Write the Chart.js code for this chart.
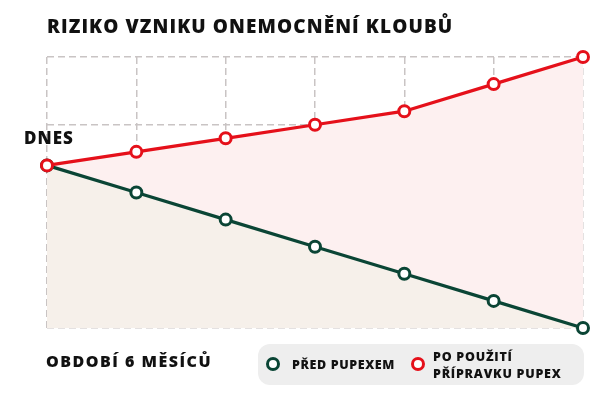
<!DOCTYPE html>
<html><head><meta charset="utf-8">
<script src="https://cdn.jsdelivr.net/npm/chart.js@4/dist/chart.umd.min.js"></script>
<style>
html,body{margin:0;padding:0;background:#fff;}
#wrap{position:relative;width:600px;height:396px;overflow:hidden;font-family:"Open Sans","Noto Sans",sans-serif;font-weight:800;color:#111;}
canvas{position:absolute;left:0;top:0;}
.t{position:absolute;white-space:nowrap;line-height:1;}
#title{left:47px;top:17px;font-size:19px;letter-spacing:1.1px;}
#dnes{left:24px;top:129px;font-size:17px;letter-spacing:1px;}
#period{left:46px;top:353px;font-size:16px;letter-spacing:1.5px;}
#legend{position:absolute;left:258px;top:344px;width:326px;height:41px;background:#eeeeee;border-radius:12px;}
.dot{position:absolute;width:8px;height:8px;border-radius:50%;border:3px solid;background:#fff;}
.lt{position:absolute;font-size:12.5px;letter-spacing:0.6px;line-height:17px;white-space:nowrap;}
</style></head>
<body><div id="wrap">
<canvas id="c" width="600" height="396"></canvas>
<div class="t" id="title">RIZIKO VZNIKU ONEMOCNĚNÍ KLOUBŮ</div>
<div class="t" id="dnes">DNES</div>
<div class="t" id="period">OBDOBÍ 6 MĚSÍCŮ</div>
<div id="legend">
  <div class="dot" style="left:8px;top:13px;border-color:#0a4535"></div>
  <div class="lt" style="left:34px;top:12px">PŘED PUPEXEM</div>
  <div class="dot" style="left:153px;top:13px;border-color:#e5101a"></div>
  <div class="lt" style="left:175px;top:4px;letter-spacing:0.75px">PO POUŽITÍ<br>PŘÍPRAVKU PUPEX</div>
</div>
</div>
<script>
const categories = ["0","1","2","3","4","5","6"];
const seriesBefore = [60, 50, 40, 30, 20, 10, 0];
const seriesAfter = [60, 65, 70, 75, 80, 90, 100];
const seriesNames = ["PO POUŽITÍ PŘÍPRAVKU PUPEX", "PŘED PUPEXEM"];
const yTicks = [0, 25, 50, 75, 100];

const RED = "#e5101a", GREEN = "#0a4535";
new Chart(document.getElementById("c"), {
  type: "line",
  data: {
    labels: categories,
    datasets: [
      {label: seriesNames[0], data: seriesAfter, borderColor: RED, backgroundColor: "#fdf0f0",
       fill: {target: 1}, borderWidth: 3.2, pointRadius: 5.5, pointBorderWidth: 3,
       pointBackgroundColor: "#fff", pointBorderColor: RED, tension: 0, clip: false},
      {label: seriesNames[1], data: seriesBefore, borderColor: GREEN, backgroundColor: "#f6f0ea",
       fill: "origin", borderWidth: 3.2, pointRadius: 5.5, pointBorderWidth: 3,
       pointBackgroundColor: "#fff", pointBorderColor: GREEN, tension: 0, clip: false}
    ]
  },
  options: {
    responsive: false, animation: false,
    layout: {padding: {left: 47, right: 17, top: 57, bottom: 68}},
    plugins: {legend: {display: false}, tooltip: {enabled: false}, filler: {drawTime: "beforeDatasetsDraw"}},
    scales: {
      x: {offset: false, ticks: {display: false}, grid: {color: "#c9c4c4", lineWidth: 1.5, drawTicks: false},
          border: {display: false, dash: [7, 4]}},
      y: {min: 0, max: 100, afterBuildTicks: s => { s.ticks = yTicks.map(v => ({value: v})); },
          ticks: {display: false}, grid: {color: "#c9c4c4", lineWidth: 1.5, drawTicks: false},
          border: {display: false, dash: [7, 4]}}
    }
  }
});
</script>
</body></html>
